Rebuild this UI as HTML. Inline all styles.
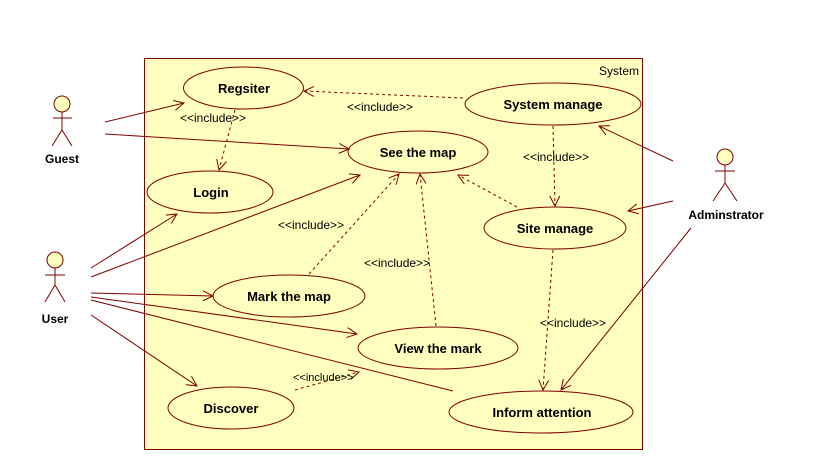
<!DOCTYPE html>
<html><head><style>body{margin:0;background:#fff}svg{display:block}</style></head><body>
<svg width="819" height="460" xmlns="http://www.w3.org/2000/svg" font-family="Liberation Sans, sans-serif">
<defs>
<marker id="a" markerWidth="12" markerHeight="12" refX="11" refY="6" orient="auto" markerUnits="userSpaceOnUse">
<path d="M1,1 L11,6 L1,11" fill="none" stroke="#800000" stroke-width="1"/></marker>
</defs>
<rect x="144.5" y="58.5" width="498" height="391" fill="#ffffc0" stroke="#800000"/>
<text x="639" y="75" font-size="12" text-anchor="end" fill="#000">System</text>
<g fill="#ffffc0" stroke="#800000">
<ellipse cx="243.5" cy="88" rx="60" ry="21"/>
<ellipse cx="418" cy="152" rx="70" ry="21"/>
<ellipse cx="210" cy="192" rx="63" ry="21"/>
<ellipse cx="553" cy="104" rx="88" ry="21"/>
<ellipse cx="555" cy="228" rx="71" ry="21"/>
<ellipse cx="289" cy="296" rx="76" ry="21"/>
<ellipse cx="438" cy="348" rx="80" ry="21"/>
<ellipse cx="231" cy="408" rx="63" ry="21"/>
<ellipse cx="541" cy="412" rx="92" ry="21"/>
</g>
<g font-size="13" font-weight="bold" text-anchor="middle" fill="#000">
<text x="244" y="93">Regsiter</text>
<text x="418" y="157">See the map</text>
<text x="211" y="197">Login</text>
<text x="553" y="109">System manage</text>
<text x="555" y="233">Site manage</text>
<text x="289" y="301">Mark the map</text>
<text x="438" y="353">View the mark</text>
<text x="231" y="413">Discover</text>
<text x="542" y="417">Inform attention</text>
</g>
<g stroke="#800000" fill="none" marker-end="url(#a)">
<line x1="105" y1="122" x2="184" y2="103"/>
<line x1="105" y1="134" x2="349" y2="149"/>
<line x1="91" y1="268" x2="177" y2="214"/>
<line x1="91" y1="277" x2="360" y2="175"/>
<line x1="91" y1="293" x2="213" y2="296"/>
<line x1="91" y1="297" x2="357" y2="334"/>
<line x1="91" y1="315" x2="197" y2="386"/>
<line x1="673" y1="161" x2="599" y2="126"/>
<line x1="673" y1="201" x2="628" y2="211"/>
<line x1="691" y1="228" x2="561" y2="390"/>
</g>
<line x1="91" y1="300" x2="453" y2="391" stroke="#800000"/>
<g stroke="#800000" fill="none" stroke-dasharray="3,3" marker-end="url(#a)">
<line x1="463" y1="98" x2="304" y2="91"/>
<line x1="235" y1="110" x2="219" y2="170"/>
<line x1="309" y1="274" x2="399" y2="174"/>
<line x1="436" y1="326" x2="420" y2="174"/>
<line x1="517" y1="207" x2="458" y2="175"/>
<line x1="553" y1="126" x2="555" y2="206"/>
<line x1="553" y1="250" x2="543" y2="390"/>
<line x1="295" y1="390" x2="359" y2="372"/>
</g>
<g font-size="12" fill="#000">
<text x="347" y="111">&lt;&lt;include&gt;&gt;</text>
<text x="180" y="122">&lt;&lt;include&gt;&gt;</text>
<text x="523" y="161">&lt;&lt;include&gt;&gt;</text>
<text x="278" y="229">&lt;&lt;include&gt;&gt;</text>
<text x="364" y="267">&lt;&lt;include&gt;&gt;</text>
<text x="540" y="327">&lt;&lt;include&gt;&gt;</text>
<text x="293" y="381" font-size="11">&lt;&lt;include&gt;&gt;</text>
</g>
<g stroke="#800000" fill="#ffffc0">
<circle cx="62" cy="104" r="8"/>
<path d="M62,112 V130 M53,118 H72 M62,130 L52,146 M62,130 L72,146" fill="none"/>
<circle cx="55" cy="260" r="8"/>
<path d="M55,268 V285 M45,275 H65 M55,285 L45,302 M55,285 L65,302" fill="none"/>
<circle cx="725" cy="157" r="8"/>
<path d="M725,165 V183 M715,171 H735 M725,183 L713,201 M725,183 L737,201" fill="none"/>
</g>
<g font-size="12" font-weight="bold" text-anchor="middle" fill="#000">
<text x="62" y="163">Guest</text>
<text x="55" y="323">User</text>
<text x="726" y="219">Adminstrator</text>
</g>
</svg>
</body></html>
